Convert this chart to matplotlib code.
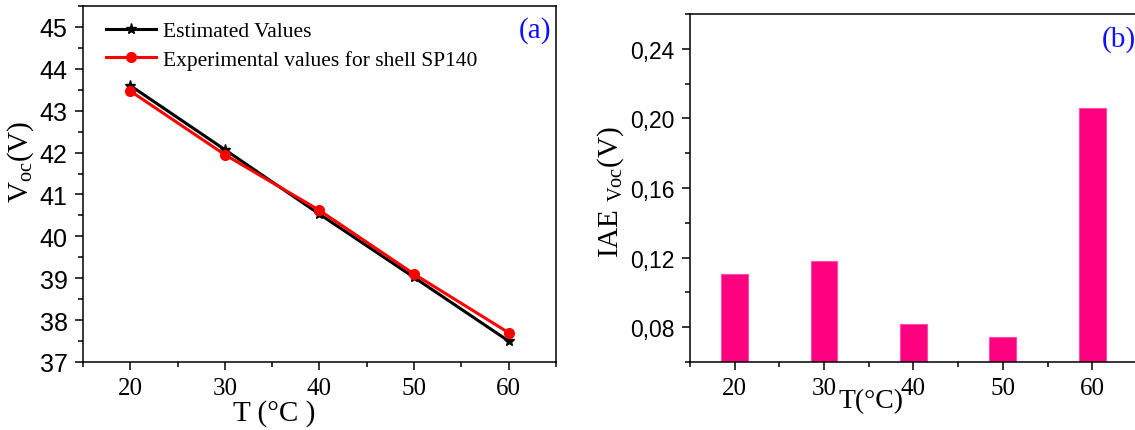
import matplotlib.pyplot as plt
from matplotlib.ticker import MultipleLocator, FuncFormatter

plt.rcParams['mathtext.fontset'] = 'custom'
plt.rcParams['mathtext.rm'] = 'Liberation Serif'
plt.rcParams['mathtext.it'] = 'Liberation Serif:italic'

serif = 'Liberation Serif'
sans = 'Liberation Sans'

# temperature (°C) and open-circuit voltage
T = [20, 30, 40, 50, 60]
voc_est = [43.60, 42.07, 40.53, 39.02, 37.50]
voc_exp = [43.47, 41.95, 40.62, 39.10, 37.70]

# integral absolute error of Voc
iae_voc = [0.1104, 0.1183, 0.0821, 0.0742, 0.2058]

fig = plt.figure(figsize=(11.35, 4.31), dpi=100)


def style_axis(ax, ysize):
    ax.tick_params(which='both', direction='out', width=1.1)
    ax.tick_params(which='major', length=6, pad=5)
    ax.tick_params(which='minor', length=3.5)
    ax.tick_params(axis='x', labelsize=18)
    ax.tick_params(axis='y', labelsize=ysize)
    for lab in ax.get_xticklabels():
        lab.set_fontfamily(serif)
    for lab in ax.get_yticklabels():
        lab.set_fontfamily(sans)
    for sp in ax.spines.values():
        sp.set_linewidth(1.1)


# ---- (a) Voc vs T ----
ax1 = fig.add_axes([0.0731, 0.1578, 0.4167, 0.826])
ax1.plot(T, voc_est, '-', color='black', lw=2.2, marker='*', ms=8,
         label='Estimated Values')
ax1.plot(T, voc_exp, '-', color='red', lw=2.2, marker='o', ms=7,
         label='Experimental values for shell SP140')
ax1.set_xlim(15, 65)
ax1.set_ylim(37, 45.5)
ax1.xaxis.set_major_locator(MultipleLocator(10))
ax1.xaxis.set_minor_locator(MultipleLocator(5))
ax1.yaxis.set_major_locator(MultipleLocator(1))
ax1.yaxis.set_minor_locator(MultipleLocator(0.5))
style_axis(ax1, 18)
ax1.set_ylabel(r'V$_{\rm oc}$(V)', fontfamily=serif, fontsize=21)
ax1.yaxis.set_label_coords(-0.10, 0.565)
ax1.set_xlabel('T (°C )', fontfamily=serif, fontsize=21)
ax1.xaxis.set_label_coords(0.404, -0.105)
ax1.legend(loc='upper left', bbox_to_anchor=(0.017, 1.0), frameon=False,
           prop={'family': serif, 'size': 15.5}, handlelength=2.3,
           handletextpad=0.35, labelspacing=0.4, borderaxespad=0.3)
ax1.text(0.955, 0.933, '(a)', transform=ax1.transAxes, color='#1010ff',
         fontfamily=serif, fontsize=21, ha='center', va='center')

# ---- (b) IAE of Voc ----
ax2 = fig.add_axes([0.6079, 0.1578, 0.3938, 0.8074])
ax2.bar(T, iae_voc, width=3, color='#ff0080', edgecolor='#ff4da6', lw=0.8)
ax2.set_xlim(15, 65)
ax2.set_ylim(0.06, 0.26)
ax2.xaxis.set_major_locator(MultipleLocator(10))
ax2.xaxis.set_minor_locator(MultipleLocator(5))
ax2.yaxis.set_major_locator(MultipleLocator(0.04))
ax2.yaxis.set_minor_locator(MultipleLocator(0.02))
ax2.yaxis.set_major_formatter(FuncFormatter(lambda v, p: f'{v:.2f}'.replace('.', ',')))
style_axis(ax2, 16.5)
ax2.set_ylabel(r'IAE $_{\rm Voc}$(V)', fontfamily=serif, fontsize=21)
ax2.yaxis.set_label_coords(-0.143, 0.49)
ax2.set_xlabel('T(°C)', fontfamily=serif, fontsize=20)
ax2.xaxis.set_label_coords(0.405, -0.075)
ax2.text(0.96, 0.93, '(b)', transform=ax2.transAxes, color='#1010ff',
         fontfamily=serif, fontsize=21, ha='center', va='center')

fig.savefig('out.png', dpi=100)
